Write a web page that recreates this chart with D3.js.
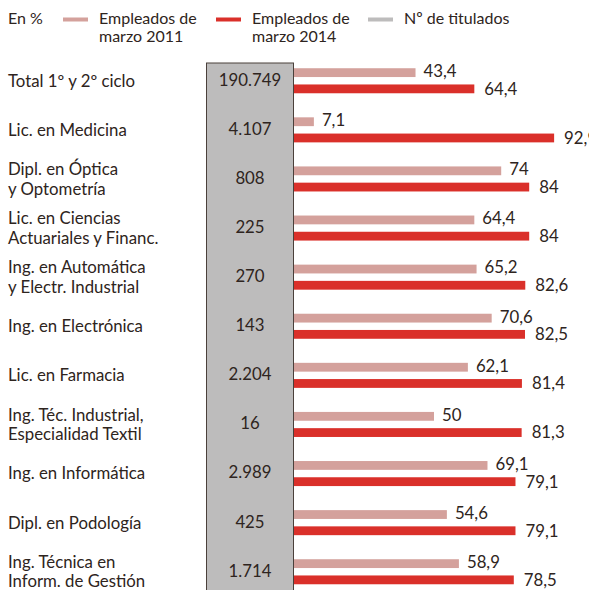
<!DOCTYPE html>
<html><head><meta charset="utf-8">
<script src="https://cdn.jsdelivr.net/npm/d3@7"></script>
<style>
html,body{margin:0;padding:0;background:#fff;}
svg{display:block;font-family:Lato,"Open Sans",sans-serif;}
</style></head>
<body>
<script>
const categories = [
  ["Total 1º y 2º ciclo"],
  ["Lic. en Medicina"],
  ["Dipl. en Óptica","y Optometría"],
  ["Lic. en Ciencias","Actuariales y Financ."],
  ["Ing. en Automática","y Electr. Industrial"],
  ["Ing. en Electrónica"],
  ["Lic. en Farmacia"],
  ["Ing. Téc. Industrial,","Especialidad Textil"],
  ["Ing. en Informática"],
  ["Dipl. en Podología"],
  ["Ing. Técnica en","Inform. de Gestión"]
];
const titulados = ["190.749","4.107","808","225","270","143","2.204","16","2.989","425","1.714"];
const emp2011 = [43.4,7.1,74,64.4,65.2,70.6,62.1,50,69.1,54.6,58.9];
const emp2014 = [64.4,92.9,84,84,82.6,82.5,81.4,81.3,79.1,79.1,78.5];
const seriesNames = ["Empleados de marzo 2011","Empleados de marzo 2014"];

const W=589,H=590;
const textColor="#2e2420";
const cLight="#d4a19c", cRed="#da302a", cGrey="#bdbcbc";
const fs=16.8;

const svg=d3.select("body").append("svg").attr("width",W).attr("height",H);

const ids=categories.map((d,i)=>i);
const y0=d3.scaleBand().domain(ids).range([56.2,596.3]).paddingInner(0.49).paddingOuter(0.245);
const y1=d3.scaleBand().domain([0,1]).range([0,y0.bandwidth()]).paddingInner(0.457).paddingOuter(0);
const x=d3.scaleLinear().domain([0,100]).range([294,574]);

// grey column
svg.append("rect").attr("x",206.5).attr("y",63).attr("width",87).attr("height",H-63+2)
  .attr("fill",cGrey).attr("stroke","#4a403b").attr("stroke-width",1);

const fmt=v=>String(v).replace(".",",");

const g=svg.selectAll("g.cat").data(ids).join("g").attr("class","cat")
  .attr("transform",i=>`translate(0,${y0(i)})`);

const mid=y0.bandwidth()/2;

// category labels
g.each(function(i){
  const lines=categories[i];
  const t=d3.select(this).append("text").attr("fill",textColor).attr("font-size",fs);
  const lh=19.5;
  const start=mid-(lines.length-1)*lh/2;
  lines.forEach((l,k)=>{
    t.append("tspan").attr("x",8).attr("y",start+k*lh).attr("dy","0.35em").text(l);
  });
});

// titulados
g.append("text").attr("x",250).attr("y",mid-1).attr("dy","0.35em").attr("text-anchor","middle")
  .attr("fill",textColor).attr("font-size",fs).text(i=>titulados[i]);

const sets=[emp2011,emp2014];
const cols=[cLight,cRed];
[0,1].forEach(s=>{
  g.append("rect").attr("x",x(0)).attr("y",y1(s)).attr("height",y1.bandwidth())
    .attr("width",i=>x(sets[s][i])-x(0)).attr("fill",cols[s]);
  g.append("text").attr("x",i=>x(sets[s][i])+(s?10:8)).attr("y",y1(s)+y1.bandwidth()/2-(s?0:1.5))
    .attr("dy","0.35em").attr("fill",textColor).attr("font-size",fs).text(i=>fmt(sets[s][i]));
});

// axis line
svg.append("line").attr("x1",293.5).attr("x2",293.5).attr("y1",63).attr("y2",H)
  .attr("stroke","#4a403b").attr("stroke-width",1);

// legend
const lg=svg.append("g").attr("fill",textColor).attr("font-size",16);
lg.append("text").attr("x",8).attr("y",24).text("En %");
const legItems=[
  {x:63,color:cLight,lines:["Empleados de","marzo 2011"]},
  {x:216,color:cRed,lines:["Empleados de","marzo 2014"]},
  {x:368,color:cGrey,lines:["Nº de titulados"]}
];
legItems.forEach(d=>{
  lg.append("rect").attr("x",d.x).attr("y",17.5).attr("width",25).attr("height",4).attr("fill",d.color);
  d.lines.forEach((l,k)=>lg.append("text").attr("x",d.x+36).attr("y",24+k*18).text(l));
});
</script>
</body></html>
